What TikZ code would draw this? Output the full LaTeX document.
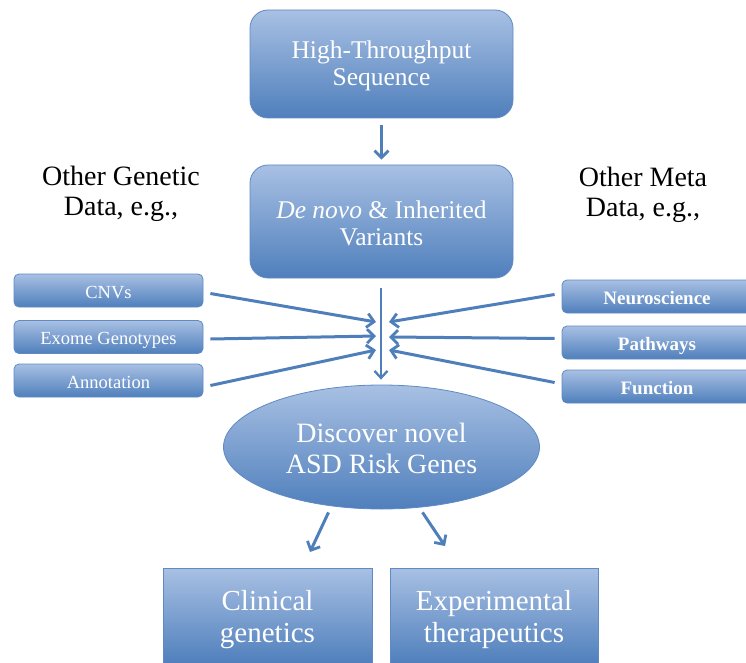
\documentclass[tikz,border=0pt]{standalone}
\usepackage{fontspec}
\setmainfont{Liberation Serif}
\usetikzlibrary{arrows.meta,shapes.geometric}
\definecolor{lightb}{RGB}{168,192,227}
\definecolor{darkb}{RGB}{79,127,188}
\definecolor{edgeb}{RGB}{95,138,196}
\definecolor{arrb}{RGB}{79,127,187}
\begin{document}
\begin{tikzpicture}[x=1pt,y=-1pt,
  shade/.style={draw=edgeb, line width=0.8pt, top color=lightb, bottom color=darkb, inner sep=0pt},
  bigbox/.style={shade, rounded corners=18pt, minimum width=263pt},
  smallbox/.style={shade, rounded corners=5pt, minimum width=189pt, minimum height=33pt},
  endbox/.style={shade, minimum width=209pt, minimum height=96pt},
  oval/.style={shade, ellipse, minimum width=316pt, minimum height=124pt},
  wtext/.style={text=white, align=center, anchor=base, inner sep=0pt},
  bigtext/.style={wtext, font=\fontsize{25.5}{27}\selectfont},
  smalltext/.style={wtext, font=\fontsize{18.5}{20}\selectfont},
  rtext/.style={wtext, font=\bfseries\fontsize{19}{20}\selectfont},
  ovaltext/.style={wtext, font=\fontsize{28}{31}\selectfont},
  endtext/.style={wtext, font=\fontsize{29}{32}\selectfont},
  side/.style={align=center, anchor=base, inner sep=0pt, font=\fontsize{28}{30}\selectfont},
  arr/.style={draw=arrb, line width=3pt, -{Straight Barb[length=7pt,width=14pt,line width=2.8pt]}},
  thinarr/.style={draw=arrb, line width=2.3pt, -{Straight Barb[length=7pt,width=13pt,line width=2.3pt]}}
]
\useasboundingbox (0,0) rectangle (746,663);
% boxes (multi-line text nodes are placed by the baseline of their last line)
\node[bigbox, minimum height=108pt] (hts) at (381.5,64) {};
\node[bigtext] (htsT) at (381.5,86) {High-Throughput\\Sequence};
\node[bigbox, minimum height=113pt] (var) at (381.5,221.5) {};
\node[bigtext] (varT) at (381.5,245) {\textit{De novo} \& Inherited\\Variants};
\node[side] (gen) at (121,215) {Other Genetic\\Data, e.g.,};
\node[side] (meta) at (643,216) {Other Meta\\Data, e.g.,};
\node[smallbox] (cnv) at (108.5,290.5) {};
\node[smalltext] (cnvT) at (108.5,298) {CNVs};
\node[smallbox] (exo) at (108.5,337) {};
\node[smalltext] (exoT) at (108.5,344.5) {Exome Genotypes};
\node[smallbox] (ann) at (108.5,380.5) {};
\node[smalltext] (annT) at (108.5,388) {Annotation};
\node[smallbox] (neu) at (656.5,296.5) {};
\node[rtext] (neuT) at (657,304) {Neuroscience};
\node[smallbox] (pat) at (656.5,342.5) {};
\node[rtext] (patT) at (657,350) {Pathways};
\node[smallbox] (fun) at (656.5,386.5) {};
\node[rtext] (funT) at (657,394) {Function};
\node[oval] (disc) at (381.5,447) {};
\node[ovaltext] (discT) at (381.5,473) {Discover novel\\ASD Risk Genes};
\node[endbox] (clin) at (267.5,616) {};
\node[endtext] (clinT) at (267.5,642) {Clinical\\genetics};
\node[endbox, minimum width=208pt] (exp) at (494,616) {};
\node[endtext] (expT) at (494,642) {Experimental\\therapeutics};
% arrow tips
\coordinate (l1) at (376,322);
\coordinate (l2) at (376,336);
\coordinate (l3) at (376,350);
\coordinate (r1) at (389,322);
\coordinate (r2) at (389,337);
\coordinate (r3) at (389,350);
\coordinate (dl) at (310,552);
\coordinate (dr) at (445,546);
% connectors
\draw[arr, shorten <=7pt, shorten >=5pt] (hts.south) -- (var.north);
\draw[thinarr, shorten <=10pt, shorten >=5pt] ([xshift=-0.5pt]var.south) -- ([xshift=-0.5pt]disc.north);
\draw[arr] ([shift={(7,3)}]cnv.east) -- (l1);
\draw[arr] ([shift={(7,2)}]exo.east) -- (l2);
\draw[arr] ([shift={(7,5)}]ann.east) -- (l3);
\draw[arr] ([shift={(-7,-2)}]neu.west) -- (r1);
\draw[arr] ([shift={(-7,-4)}]pat.west) -- (r2);
\draw[arr] ([shift={(-7,-4)}]fun.west) -- (r3);
\draw[arr] ([shift={(-53,3)}]disc.south) -- (dl);
\draw[arr] ([shift={(41,3)}]disc.south) -- (dr);
\end{tikzpicture}
\end{document}
